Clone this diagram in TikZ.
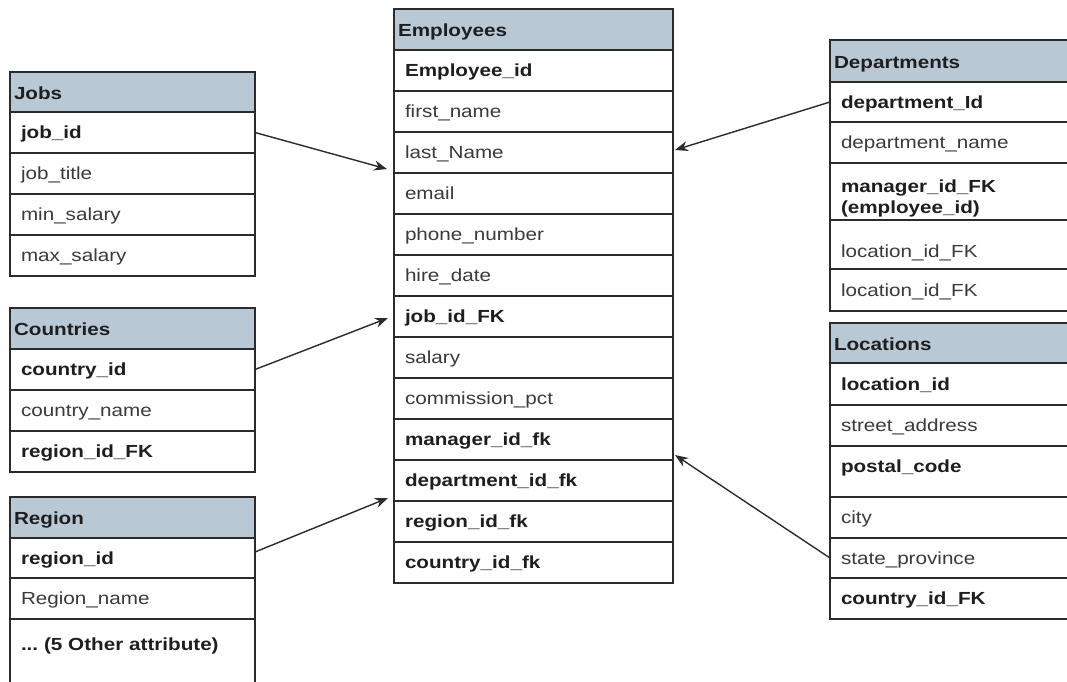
\documentclass[tikz,border=0pt]{standalone}
\usepackage{fontspec}
\setmainfont{Liberation Sans}[FakeStretch=1.18]
\usetikzlibrary{arrows.meta}
\definecolor{hdrblue}{HTML}{B9C8D5}
\definecolor{linec}{HTML}{2B2B2B}
\definecolor{txtc}{HTML}{3A3A3A}
\definecolor{boldc}{HTML}{1E1E1E}
\frenchspacing
\begin{document}
\begin{tikzpicture}[x=1pt,y=-1pt,
  every node/.style={font=\fontsize{17.5}{15.5}\selectfont, outer sep=0pt},
  cell/.style={draw=linec, line width=1.3pt, fill=white, anchor=north west,
    inner xsep=11pt, inner ysep=0pt, text height=12pt, text depth=0pt,
    align=left, text=txtc},
  hdr/.style={cell, fill=hdrblue, inner xsep=4pt, text=boldc, text height=14pt,
    font=\fontsize{17.5}{15.5}\selectfont\bfseries},
  key/.style={text=boldc, font=\fontsize{17.5}{21}\selectfont\bfseries},
  empw/.style={minimum width=279pt, text width=257pt},
  empwh/.style={minimum width=279pt, text width=271pt},
  lw/.style={minimum width=245pt, text width=223pt},
  lwh/.style={minimum width=245pt, text width=237pt},
  rw/.style={minimum width=260pt, text width=238pt},
  rwh/.style={minimum width=260pt, text width=252pt},
  fk/.style={draw=linec, line width=1.4pt, -{Stealth[length=13pt,width=10pt]}}
]
\useasboundingbox (0,0) rectangle (1067,681);
\clip (0,0) rectangle (1067,681);

% Employees
\node[hdr, empwh, minimum height=41pt] (emp-h) at (394,9) {Employees};
\node[cell, empw, key, minimum height=41pt] (emp-id) at (394,50) {Employee\_id};
\node[cell, empw, minimum height=41pt] (emp-first) at (394,91) {first\_name};
\node[cell, empw, minimum height=41pt] (emp-last) at (394,132) {last\_Name};
\node[cell, empw, minimum height=41pt] (emp-email) at (394,173) {email};
\node[cell, empw, minimum height=41pt] (emp-phone) at (394,214) {phone\_number};
\node[cell, empw, minimum height=41pt] (emp-hire) at (394,255) {hire\_date};
\node[cell, empw, key, minimum height=41pt] (emp-jobfk) at (394,296) {job\_id\_FK};
\node[cell, empw, minimum height=41pt] (emp-salary) at (394,337) {salary};
\node[cell, empw, minimum height=41pt] (emp-comm) at (394,378) {commission\_pct};
\node[cell, empw, key, minimum height=41pt] (emp-mgr) at (394,419) {manager\_id\_fk};
\node[cell, empw, key, minimum height=41pt] (emp-dept) at (394,460) {department\_id\_fk};
\node[cell, empw, key, minimum height=41pt] (emp-reg) at (394,501) {region\_id\_fk};
\node[cell, empw, key, minimum height=41pt] (emp-ctry) at (394,542) {country\_id\_fk};

% Jobs
\node[hdr, lwh, minimum height=40pt] (jobs-h) at (10,72) {Jobs};
\node[cell, lw, key, minimum height=41pt] (jobs-id) at (10,112) {job\_id};
\node[cell, lw, minimum height=41pt] (jobs-title) at (10,153) {job\_title};
\node[cell, lw, minimum height=41pt] (jobs-min) at (10,194) {min\_salary};
\node[cell, lw, minimum height=41pt] (jobs-max) at (10,235) {max\_salary};

% Countries
\node[hdr, lwh, minimum height=41pt] (ctry-h) at (10,308) {Countries};
\node[cell, lw, key, minimum height=41pt] (ctry-id) at (10,349) {country\_id};
\node[cell, lw, minimum height=41pt] (ctry-name) at (10,390) {country\_name};
\node[cell, lw, key, minimum height=41pt] (ctry-reg) at (10,431) {region\_id\_FK};

% Region
\node[hdr, lwh, minimum height=41pt] (reg-h) at (10,497) {Region};
\node[cell, lw, key, minimum height=40pt] (reg-id) at (10,538) {region\_id};
\node[cell, lw, minimum height=41pt] (reg-name) at (10,578) {Region\_name};
\node[cell, lw, key, minimum height=90pt, text depth=39pt] (reg-other) at (10,619) {... (5 Other attribute)};

% Departments
\node[hdr, rwh, minimum height=42pt] (dep-h) at (830,40) {Departments};
\node[cell, rw, key, minimum height=40pt] (dep-id) at (830,82) {department\_Id};
\node[cell, rw, minimum height=41pt] (dep-name) at (830,122) {department\_name};
\node[cell, rw, key, minimum height=57pt, text height=12.5pt, text depth=11.5pt] (dep-mgr) at (830,163) {manager\_id\_FK\\(employee\_id)};
\node[cell, rw, minimum height=49pt, text height=25pt] (dep-loc1) at (830,220) {location\_id\_FK};
\node[cell, rw, minimum height=42pt] (dep-loc2) at (830,269) {location\_id\_FK};

% Locations
\node[hdr, rwh, minimum height=40pt] (loc-h) at (830,323) {Locations};
\node[cell, rw, key, minimum height=42pt] (loc-id) at (830,363) {location\_id};
\node[cell, rw, minimum height=41pt] (loc-street) at (830,405) {street\_address};
\node[cell, rw, key, minimum height=51pt, text depth=10pt] (loc-postal) at (830,446) {postal\_code};
\node[cell, rw, minimum height=41pt] (loc-city) at (830,497) {city};
\node[cell, rw, minimum height=40pt] (loc-state) at (830,538) {state\_province};
\node[cell, rw, key, minimum height=41pt] (loc-ctry) at (830,578) {country\_id\_FK};

% arrow tips
\coordinate (t-jobs) at ([xshift=-7pt,yshift=4pt]emp-last.south west);
\coordinate (t-ctry) at ([xshift=-6pt,yshift=-1.5pt]emp-jobfk.west);
\coordinate (t-reg) at ([xshift=-6pt,yshift=3pt]emp-dept.south west);
\coordinate (t-dep) at ([xshift=2pt,yshift=2.5pt]emp-last.east);
\coordinate (t-loc) at ([xshift=2pt,yshift=5pt]emp-mgr.south east);

\draw[fk] (jobs-id.east) -- (t-jobs);
\draw[fk] (ctry-id.east) -- (t-ctry);
\draw[fk] ([yshift=6pt]reg-id.east) -- (t-reg);
\draw[fk] (dep-id.west) -- (t-dep);
\draw[fk] (loc-state.west) -- (t-loc);
\end{tikzpicture}
\end{document}
